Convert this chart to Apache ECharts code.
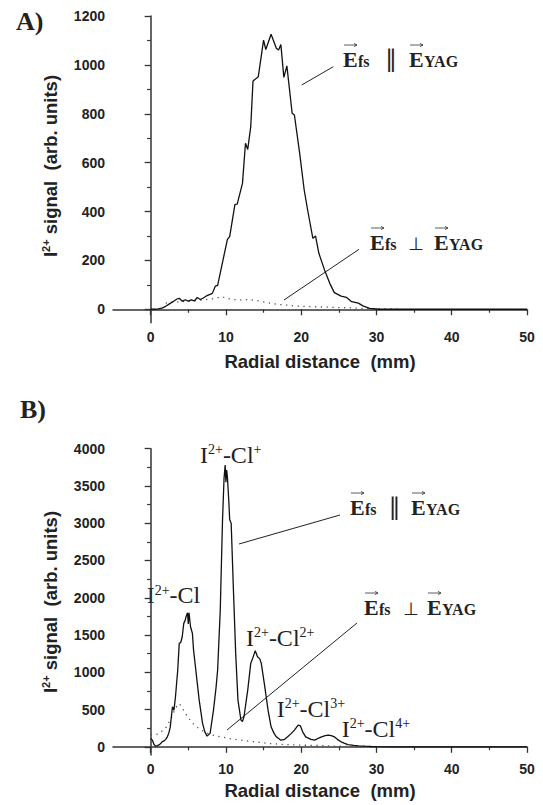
<!DOCTYPE html>
<html><head><meta charset="utf-8">
<script src="https://cdn.jsdelivr.net/npm/echarts@6.0.0/dist/echarts.min.js"></script>
<style>html,body{margin:0;padding:0;background:#fff}#c{width:543px;height:805px}</style>
</head><body><div id="c"></div>
<script>
// ---------- data ----------
const xLabels = [0, 10, 20, 30, 40, 50];
const xMinor = [5, 15, 25, 35, 45];
const yLabelsA = [0, 200, 400, 600, 800, 1000, 1200];
const yMinorA = [100, 300, 500, 700, 900, 1100];
const yLabelsB = [0, 500, 1000, 1500, 2000, 2500, 3000, 3500, 4000];
const yMinorB = [250, 750, 1250, 1750, 2250, 2750, 3250, 3750];

// Panel A: E_fs parallel E_YAG (solid)
const parallelA = [[0,0],[0.5,0],[1,2],[1.5,5],[2,12],[2.5,22],[3,32],[3.5,42],[3.8,45],[4.2,33],[4.6,39],[5.0,33],[5.4,38],[5.8,34],[6.2,48],[6.6,40],[7.0,46],[7.5,56],[8.2,65],[8.6,95],[8.9,98],[9.5,185],[10.2,286],[10.5,297],[11.2,429],[11.5,430],[12.2,515],[12.6,679],[12.9,654],[13.3,747],[13.6,934],[14.3,951],[15.0,1101],[15.3,1063],[16.0,1125],[16.7,1068],[17.0,1061],[17.3,1083],[17.7,949],[18.1,996],[18.8,802],[19.1,795],[19.8,638],[20.4,488],[20.9,399],[21.55,290],[21.9,300],[22.35,229],[23.1,161],[23.8,106],[24.4,68],[24.8,62],[25.3,54],[25.6,52],[26.0,49],[26.7,31],[27.6,25],[28.2,14],[29.1,4],[30.4,0],[35,0],[40,0],[45,0],[50,0]];
// Panel A: E_fs perpendicular E_YAG (dotted)
const perpA = [[2,25],[3,30],[4,30],[5,33],[6,35],[7,38],[8,42],[9,48],[9.5,52],[10,45],[11,40],[12,38],[13,40],[14,36],[15,30],[16,24],[17,20],[18,17],[19,14],[20,12],[22,10],[24,8],[26,6],[28,4],[30,2],[32,1],[33,0]];
// Panel B: parallel (solid)
const parallelB = [[0,113],[0.22,90],[0.45,30],[0.67,9],[0.9,15],[1.1,25],[1.3,40],[1.55,70],[1.8,80],[2.0,100],[2.2,130],[2.4,180],[2.6,260],[2.9,537],[3.1,492],[3.3,671],[3.6,1030],[3.8,1388],[4.0,1400],[4.2,1477],[4.4,1656],[4.6,1700],[4.7,1745],[4.9,1799],[5.0,1650],[5.1,1799],[5.3,1611],[5.55,1522],[5.7,1300],[6.0,1030],[6.45,627],[6.9,314],[7.2,200],[7.5,144],[7.9,180],[8.35,492],[8.7,805],[8.9,1030],[9.25,1835],[9.55,3043],[9.75,3600],[9.9,3780],[10.0,3550],[10.1,3713],[10.2,3624],[10.4,3267],[10.5,3050],[10.7,2998],[11.0,2103],[11.3,1253],[11.6,627],[12.0,358],[12.2,340],[12.4,403],[12.9,761],[13.3,1119],[13.6,1200],[13.9,1290],[14.2,1208],[14.5,1180],[14.7,1119],[15.1,851],[15.6,492],[16.0,268],[16.4,180],[16.7,134],[17.3,89],[17.8,100],[18.2,134],[18.7,180],[19.1,224],[19.6,291],[19.9,280],[20.2,201],[20.6,134],[21.3,99],[21.8,89],[22.4,121],[22.7,134],[23.2,150],[23.6,157],[24.0,150],[24.4,134],[24.8,100],[25.3,67],[25.7,50],[26.2,30],[27.0,18],[27.6,13],[28.5,8],[29.3,4],[30,2],[32,0],[36,0],[40,0],[45,0],[50,0]];
// Panel B: perpendicular (dotted)
const perpB = [[0,160],[1,170],[2,250],[2.8,400],[3.3,520],[3.8,580],[4.2,520],[4.9,403],[5.8,291],[6.7,224],[7.6,179],[8.5,150],[9.3,134],[10.5,110],[12,90],[14,65],[15.6,45],[18,30],[20,22],[22,18],[24.4,9],[27,5],[30,0]];

const xTitle = 'Radial distance  (mm)';
const peakTexts = ['{m|I}{s|2+}{m|-Cl}', '{m|I}{s|2+}{m|-Cl}{s|+}', '{m|I}{s|2+}{m|-Cl}{s|2+}', '{m|I}{s|2+}{m|-Cl}{s|3+}', '{m|I}{s|2+}{m|-Cl}{s|4+}'];

// ---------- styling ----------
const SANS = '"Liberation Sans", Arial, Helvetica, sans-serif';
const SERIF = '"Liberation Serif", "Times New Roman", "DejaVu Serif", serif';
const INK = '#222';
const AX = '#333';
const plain = v => String(v);

function mainX(gi, gap) {
  return {
    type: 'value', gridIndex: gi, min: -5, max: 50, position: 'bottom',
    axisLine: {show: true, lineStyle: {color: AX, width: 1.5}},
    axisTick: {show: true, customValues: xLabels, length: 6, lineStyle: {color: AX, width: 1.3}},
    axisLabel: {customValues: xLabels, formatter: plain, margin: 7, fontFamily: SANS, fontWeight: 'bold', fontSize: 14, color: INK},
    splitLine: {show: false},
    name: xTitle, nameLocation: 'middle', nameGap: gap,
    nameTextStyle: {fontFamily: SANS, fontWeight: 'bold', fontSize: 18.5, color: INK}
  };
}
function minorX(gi) {
  return {
    type: 'value', gridIndex: gi, min: -5, max: 50, position: 'bottom',
    axisLine: {show: false},
    axisTick: {show: true, customValues: xMinor, length: 3.5, lineStyle: {color: AX, width: 1.2}},
    axisLabel: {show: false}, splitLine: {show: false}
  };
}
function mainY(gi, min, max, labels) {
  return {
    type: 'value', gridIndex: gi, min: min, max: max, position: 'left',
    axisLine: {show: true, lineStyle: {color: AX, width: 1.5}},
    axisTick: {show: true, customValues: labels, length: 6, lineStyle: {color: AX, width: 1.3}},
    axisLabel: {customValues: labels, formatter: plain, margin: 8, fontFamily: SANS, fontWeight: 'bold', fontSize: 14, color: INK},
    splitLine: {show: false}
  };
}
function minorY(gi, min, max, ticks) {
  return {
    type: 'value', gridIndex: gi, min: min, max: max, position: 'left',
    axisLine: {show: false},
    axisTick: {show: true, customValues: ticks, length: 3.5, lineStyle: {color: AX, width: 1.2}},
    axisLabel: {show: false}, splitLine: {show: false}
  };
}

const solid = {color: '#111', width: 1.3};
const dotted = {color: '#555', width: 1.3, type: [1.3, 4.5]};

function lineSeries(data, xi, yi, ls) {
  return {type: 'line', data: data, xAxisIndex: xi, yAxisIndex: yi, showSymbol: false, symbol: 'none',
    lineStyle: ls, silent: true, animation: false};
}

// ---------- annotation helpers ----------
function txt(x, y, text, size, bold, family, extra) {
  return {type: 'text', x: x, y: y, silent: true, style: Object.assign({
    text: text, fontFamily: family || SERIF, fontSize: size, fontWeight: bold ? 'bold' : 'normal',
    fill: INK, align: 'left', verticalAlign: 'middle'}, extra || {})};
}
function vecArrow(x, y, w) {
  return [
    {type: 'line', silent: true, shape: {x1: x, y1: y, x2: x + w, y2: y}, style: {stroke: '#333', lineWidth: 0.8}},
    {type: 'polyline', silent: true, shape: {points: [[x + w - 3, y - 1.6], [x + w, y], [x + w - 3, y + 1.6]]}, style: {stroke: '#333', lineWidth: 0.8, fill: null}}
  ];
}
function annot(x, B, sym, off) {
  const els = [];
  els.push(txt(x, B - 0.3375 * 22, 'E', 22, true));
  els.push(...vecArrow(x + 1, B - 22, 13));
  els.push(txt(x + off[0], B - 0.3375 * 16, 'fs', 16, true));
  if (sym === 'par') {
    els.push(txt(x + off[1], B - 0.346 * 24, '\u2225', 24, false, '"DejaVu Sans", sans-serif', {align: 'center'}));
  } else {
    els.push(txt(x + off[1], B - 0.346 * 18, '\u22A5', 18, false, '"DejaVu Sans", sans-serif', {align: 'center'}));
  }
  els.push(txt(x + off[2], B - 0.3375 * 22, 'E', 22, true));
  els.push(...vecArrow(x + off[2] + 1, B - 22, 13));
  els.push(txt(x + off[3], B - 0.3375 * 16, 'YAG', 16, true));
  return els;
}
function leader(x1, y1, x2, y2) {
  return {type: 'line', silent: true, shape: {x1, y1, x2, y2}, style: {stroke: '#222', lineWidth: 1}};
}
const peakRich = {
  m: {fontFamily: SERIF, fontSize: 24, lineHeight: 24, verticalAlign: 'top', fill: INK},
  s: {fontFamily: SERIF, fontSize: 14, lineHeight: 14, verticalAlign: 'top', fill: INK}
};
function peak(i, left, B) {
  return {type: 'text', x: left, y: B - 20.1, silent: true,
    style: {text: peakTexts[i], rich: peakRich, align: 'left', verticalAlign: 'top', fill: INK}};
}
const yTitleRich = {
  m: {fontFamily: SANS, fontWeight: 'bold', fontSize: 18.5, lineHeight: 20, verticalAlign: 'bottom', fill: INK},
  s: {fontFamily: SANS, fontWeight: 'bold', fontSize: 11, lineHeight: 11, verticalAlign: 'top', fill: INK}
};
function yTitle(cx, cy) {
  return {type: 'text', x: cx, y: cy, rotation: Math.PI / 2, silent: true,
    style: {text: '{m|I}{s|2+}{m| signal  (arb. units)}', rich: yTitleRich, align: 'center', verticalAlign: 'middle', fill: INK}};
}

const graphics = [
  txt(16, 21, 'A)', 26, true),
  txt(20, 409, 'B)', 26, true),
  yTitle(50, 166),
  yTitle(50, 602),
  leader(333.3, 66.7, 301.7, 85),
  leader(359, 249.3, 284, 300),
  leader(340, 515, 239, 544),
  leader(357, 623, 227, 730),
  ...annot(343, 67, 'par', [15, 48, 66, 81]),
  ...annot(370, 250, 'perp', [15, 46, 64, 79]),
  ...annot(350, 515, 'par', [15, 44.5, 61, 76]),
  ...annot(364, 615, 'perp', [15, 47, 63, 78])
].concat([
  peak(0, 146.7, 603.3),
  peak(1, 200, 463),
  peak(2, 246, 646),
  peak(3, 276.7, 716.7),
  peak(4, 341.7, 736.7)
]);

const chart = echarts.init(document.getElementById('c'), null, {renderer: 'svg', width: 543, height: 805});
chart.setOption({
  animation: false,
  backgroundColor: '#fff',
  grid: [
    {left: 113, right: 16, top: 16, height: 306.7},
    {left: 113, right: 16, top: 448.7, height: 306.3}
  ],
  xAxis: [mainX(0, 29), minorX(0), mainX(1, 26), minorX(1)],
  yAxis: [mainY(0, -55, 1200, yLabelsA), minorY(0, -55, 1200, yMinorA),
          mainY(1, -110, 4000, yLabelsB), minorY(1, -110, 4000, yMinorB)],
  series: [
    lineSeries(perpA, 0, 0, dotted),
    lineSeries(parallelA, 0, 0, solid),
    lineSeries(perpB, 2, 2, dotted),
    lineSeries(parallelB, 2, 2, solid)
  ],
  graphic: graphics
});
</script>
</body></html>
